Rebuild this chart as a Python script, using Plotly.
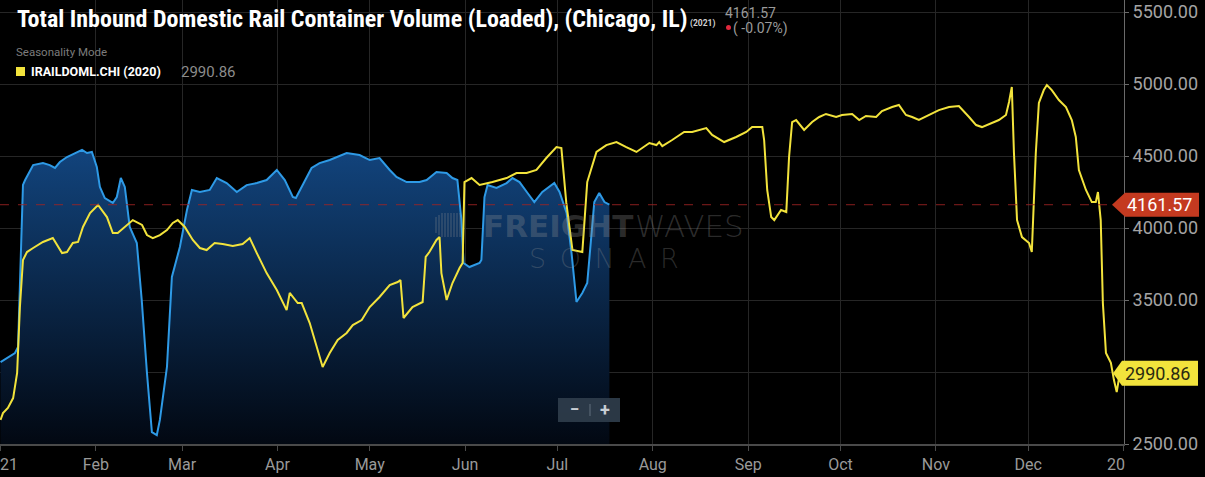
import plotly.graph_objects as go
import pandas as pd

# ---------------- data ----------------
# 2021 series (blue): day offset from Jan 1 and value
days_2021 = [0, 2.4, 4.7, 5.7, 6.7, 7.3, 8, 10.6, 13.8, 16, 17.7, 19.3, 21.6, 24.8, 26.5, 28.1, 29.7,
             31.3, 32.3, 33.9, 36.5, 37.8, 39.1, 40.4, 42.0, 44.3, 45.9, 47.6, 49.2, 50.8, 51.8, 54.1,
             55.7, 58.3, 60.6, 62.2, 64.8, 68, 70.3, 73.5, 76.8, 80, 83.3, 86.5, 89.8, 92.4, 95, 96,
             98.2, 101.1, 103.7, 107, 112.5, 116.7, 120, 123.2, 126.5, 128.7, 132, 136.2, 138.5,
             141.7, 145, 146.9, 148.5, 149.8, 150.5, 152.4, 155.7, 156.3, 157.3, 158.3, 161.2, 164.5,
             166.4, 168.7, 171.3, 173.5, 176.1, 178.4, 180, 181.7, 184, 185.6, 187.2, 189.1, 190.7,
             192, 193, 194.6, 196.3, 197.9]
vals_2021 = [3069, 3104, 3132, 3174, 3847, 4299, 4333, 4437, 4451, 4437, 4417, 4458, 4493, 4528, 4542,
             4521, 4528, 4424, 4285, 4208, 4174, 4215, 4347, 4285, 4007, 3896, 3500, 2993, 2583, 2562,
             2667, 3035, 3660, 3868, 4125, 4264, 4250, 4264, 4347, 4312, 4250, 4298, 4312, 4333, 4403,
             4333, 4215, 4208, 4299, 4417, 4451, 4472, 4521, 4507, 4472, 4486, 4403, 4354, 4319, 4319,
             4333, 4389, 4382, 4347, 4333, 4056, 3757, 3729, 3757, 3778, 4215, 4299, 4278, 4312, 4347,
             4319, 4243, 4180, 4250, 4285, 4312, 4250, 4104, 3826, 3486, 3549, 3618, 3937, 4180, 4243,
             4180, 4161.57]

# 2020 series (yellow, seasonality mode): day offset from Jan 1 and value
days_2020 = [0, 0.8, 2.4, 4.1, 5.4, 6.3, 7.3, 8.6, 10.6, 13.8, 17, 18.7, 20, 21.6, 23.5, 25.2, 26.8,
             29.1, 31.7, 34.6, 36.5, 38.1, 40.4, 43, 46, 47.6, 49.5, 51.8, 54.1, 56, 57.6, 59.9, 62.5,
             64.8, 67, 69.6, 72.2, 75.5, 78.7, 81, 83.3, 86.5, 89.8, 93, 94, 96.6, 97.9, 100.5, 102.8,
             104.7, 107, 109.6, 112.5, 114.5, 117.4, 120, 123.2, 126.5, 129.1, 130, 131, 133.9, 137.2,
             138.2, 139.4, 141.7, 142.7, 143.3, 145, 146.9, 149.2, 150.2, 150.8, 153.1, 155.7, 159.9,
             164.5, 167.7, 171, 174.2, 177.4, 180.7, 182.3, 183.9, 185.9, 189.1, 190.7, 193.7, 196.9,
             200.2, 203.4, 206.7, 210.9, 213.2, 214.1, 215.1, 218.3, 222.2, 224.8, 229.4, 231.3, 235.2,
             239.1, 242.4, 244.3, 247.6, 248.2, 249.2, 250.5, 251.5, 253.7, 255.4, 256.3, 257.3, 258.6,
             261.2, 263.8, 266.1, 268.3, 271.6, 273.5, 276.8, 279.1, 281.3, 284.6, 286.5, 289.8, 292,
             294.3, 296.3, 298.5, 301.8, 305, 308.3, 311.5, 314.8, 317.1, 319, 322.2, 324.5, 326.8,
             327.8, 328.7, 329.4, 330.4, 332, 334.3, 335.2, 336.5, 337.5, 339.1, 340.1, 341.7, 344,
             346.3, 348.2, 349.5, 350.5, 352.8, 354.7, 356, 356.7, 357.6, 358.3, 359.3, 360.9, 361.9,
             362.8, 363.8]
vals_2020 = [2667, 2715, 2750, 2819, 2993, 3451, 3778, 3833, 3861, 3903, 3930, 3868, 3826, 3833, 3896,
             3903, 4007, 4104, 4160, 4076, 3965, 3965, 4007, 4055, 4021, 3951, 3930, 3951, 3986, 4035,
             4055, 4007, 3917, 3861, 3847, 3896, 3889, 3875, 3889, 3930, 3826, 3687, 3569, 3430, 3549,
             3479, 3479, 3340, 3174, 3035, 3132, 3222, 3271, 3326, 3361, 3451, 3521, 3604, 3625, 3639,
             3375, 3451, 3486, 3799, 3833, 3917, 3937, 3687, 3500, 3618, 3722, 3757, 4319, 4347, 4299,
             4319, 4347, 4382, 4382, 4403, 4486, 4562, 4555, 4174, 3847, 3833, 4319, 4528, 4576, 4597,
             4562, 4528, 4590, 4576, 4597, 4569, 4611, 4667, 4667, 4694, 4646, 4597, 4632, 4667, 4701,
             4701, 4611, 4264, 4076, 4055, 4125, 4111, 4493, 4736, 4750, 4681, 4736, 4771, 4792, 4771,
             4785, 4792, 4750, 4778, 4771, 4812, 4840, 4854, 4785, 4771, 4750, 4785, 4819, 4840, 4847,
             4771, 4715, 4701, 4729, 4750, 4785, 4875, 4979, 4521, 4055, 3937, 3896, 3833, 4521, 4868,
             4958, 4993, 4958, 4889, 4840, 4750, 4632, 4403, 4264, 4180, 4180, 4250, 4055, 3479, 3132,
             3063, 2944, 2861, 2990.86]

month_ticks = ["2021-01-01", "2021-02-01", "2021-03-01", "2021-04-01", "2021-05-01", "2021-06-01",
               "2021-07-01", "2021-08-01", "2021-09-01", "2021-10-01", "2021-11-01", "2021-12-01",
               "2022-01-01"]
# the two year labels at the edges are only partly visible in the reference ("21" and "20")
month_labels = ["", "Feb", "Mar", "Apr", "May", "Jun", "Jul", "Aug", "Sep", "Oct", "Nov", "Dec", ""]
edge_labels = ["21", "20"]
y_ticks = [2500, 3000, 3500, 4000, 4500, 5000, 5500]
# the 3000 label sits under the yellow last-value tag in the reference
y_labels = ["2500.00", "", "3500.00", "4000.00", "4500.00", "5000.00", "5500.00"]

last_2021 = 4161.57
last_2020 = 2990.86
change_pct = "-0.07%"
title_text = "Total Inbound Domestic Rail Container Volume (Loaded), (Chicago, IL)"
series_name = "IRAILDOML.CHI (2020)"

# ---------------- figure ----------------
base = pd.Timestamp("2021-01-01")
x21 = base + pd.to_timedelta(days_2021, unit="D")
x20 = base + pd.to_timedelta(days_2020, unit="D")

W, H = 1205, 477
ML, MR, MT, MB = 0, 81, 0, 33
PW, PH = W - ML - MR, H - MT - MB


def PX(x):
    return (x - ML) / PW


def PY(y):
    return (PH + MT - y) / PH


BLUE = "#2e9ae6"
YELLOW = "#f2e33c"
RED = "#c43a20"
FONT = "Roboto"
WM = "rgba(150,150,150,0.30)"

fig = go.Figure()
fig.add_trace(go.Scatter(
    x=x21, y=vals_2021, mode="lines", line=dict(color=BLUE, width=2),
    fill="tozeroy",
    fillgradient=dict(type="vertical",
                      colorscale=[[0, "rgb(2,8,18)"], [1, "rgb(18,68,125)"]],
                      start=2500, stop=4550),
    hoverinfo="skip"))
fig.add_trace(go.Scatter(
    x=x20, y=vals_2020, mode="lines", line=dict(color=YELLOW, width=2), hoverinfo="skip"))

shapes = []
# last-value dashed line
shapes.append(dict(type="line", xref="paper", x0=0, x1=1, yref="y", y0=last_2021, y1=last_2021,
                   line=dict(color="rgba(160,35,35,0.85)", width=1, dash="dash"), layer="above"))
# red price label
shapes.append(dict(type="path", xref="paper", xsizemode="pixel", xanchor=1,
                   yref="y", ysizemode="pixel", yanchor=last_2021,
                   path="M -12,0 L 1,12 L 75,12 L 75,-12 L 1,-12 Z",
                   fillcolor=RED, line=dict(width=0), layer="above"))
# yellow price label
shapes.append(dict(type="path", xref="paper", xsizemode="pixel", xanchor=1,
                   yref="y", ysizemode="pixel", yanchor=last_2020,
                   path="M -11,0 L -2,12.5 L 74,12.5 L 74,-12.5 L -2,-12.5 Z",
                   fillcolor=YELLOW, line=dict(width=0), layer="above"))
# legend swatch
shapes.append(dict(type="rect", xref="paper", x0=PX(16), x1=PX(25), yref="paper", y0=PY(76), y1=PY(67),
                   fillcolor=YELLOW, line=dict(width=0), layer="above"))
# red dot
shapes.append(dict(type="circle", xref="paper", x0=PX(726), x1=PX(731), yref="paper", y0=PY(30), y1=PY(25),
                   fillcolor="#e0283c", line=dict(width=0), layer="above"))
# zoom button
shapes.append(dict(type="rect", xref="paper", x0=PX(558), x1=PX(620), yref="paper", y0=PY(422), y1=PY(398),
                   fillcolor="rgba(48,62,76,0.9)", line=dict(width=0), layer="above"))
shapes.append(dict(type="line", xref="paper", x0=PX(590), x1=PX(590), yref="paper", y0=PY(416), y1=PY(404),
                   line=dict(color="rgba(120,135,150,0.7)", width=1), layer="above"))
# watermark bars
for i, h in enumerate([8, 10, 12, 12, 12, 12, 12, 12, 12]):
    xb = 436 + i * 3
    shapes.append(dict(type="line", xref="paper", x0=PX(xb), x1=PX(xb), yref="paper",
                       y0=PY(225 + h), y1=PY(225 - h),
                       line=dict(color=WM, width=1.5), layer="above"))

annotations = []


def ann(x, y, text, size, color, xanchor="left", weight="normal", family=FONT, **kw):
    annotations.append(dict(xref="paper", yref="paper", x=PX(x), y=PY(y), text=text, showarrow=False,
                            xanchor=xanchor, yanchor="middle",
                            font=dict(family=family, size=size, color=color, weight=weight), **kw))


ann(15, 19, "<b>" + title_text + "</b>", 24, "#ffffff",
    family="Roboto Condensed, Liberation Sans Narrow, Arial Narrow, Roboto")
ann(688, 23, "<b>(2021)</b>", 8.5, "#d0d0d0")
ann(723, 13, f"{last_2021:.2f}", 14, "#9a9a9a")
ann(731, 28, "( " + change_pct + ")", 14, "#9a9a9a")
ann(14, 52, "Seasonality Mode", 11.5, "#7c7c7c")
ann(29, 71, "<b>" + series_name + "</b>", 12.5, "#ffffff")
ann(179, 72, f"{last_2020:.2f}", 15, "#8c8c8c")
# partially visible year labels at the x-axis edges
ann(-2, 464, edge_labels[0], 16, "#9a9a9a")
ann(1127, 464, edge_labels[1], 16, "#9a9a9a", xanchor="right")
# price label texts
annotations.append(dict(xref="paper", yref="y", x=1, y=last_2021, xshift=1, text=f"{last_2021:.2f}",
                        showarrow=False, xanchor="left", yanchor="middle",
                        font=dict(family=FONT, size=18, color="#ffffff")))
annotations.append(dict(xref="paper", yref="y", x=1, y=last_2020, xshift=-1, text=f"{last_2020:.2f}",
                        showarrow=False, xanchor="left", yanchor="middle",
                        font=dict(family=FONT, size=18, color="#2a2a10")))
# watermark
ann(635, 226, "<b>FREIGHT</b>", 31, WM, xanchor="right", family="DejaVu Sans")
ann(633, 226, "WAVES", 31, WM, family="DejaVu Sans", weight=300)
ann(604, 258, "S\u2002O\u2002N\u2002A\u2002R", 27, "rgba(150,150,150,0.28)", xanchor="center",
    family="DejaVu Sans", weight=200)
# zoom button glyphs
ann(574, 409, "<b>\u2212</b>", 17, "#c8ced4", xanchor="center")
ann(605, 409, "<b>+</b>", 18, "#c8ced4", xanchor="center")

fig.update_layout(
    width=W, height=H,
    margin=dict(l=ML, r=MR, t=MT, b=MB, pad=0, autoexpand=False),
    paper_bgcolor="#000000", plot_bgcolor="#000000",
    showlegend=False,
    font=dict(family=FONT, color="#a0a0a0"),
    shapes=shapes, annotations=annotations,
    xaxis=dict(type="date", range=["2020-12-31 20:00", "2022-01-01 04:00"],
               tickmode="array", tickvals=month_ticks, ticktext=month_labels,
               showgrid=True, gridcolor="#262626", gridwidth=1,
               showline=True, linecolor="#4a4a4a", linewidth=2,
               ticks="outside", ticklen=5, tickcolor="#4a4a4a",
               tickfont=dict(family=FONT, size=16, color="#9a9a9a"),
               ticklabeloverflow="allow", zeroline=False, fixedrange=True, automargin=False),
    yaxis=dict(side="right", range=[2500, 2500 + PH / 72 * 500],
               tickmode="array", tickvals=y_ticks, ticktext=y_labels,
               showgrid=True, gridcolor="#262626", gridwidth=1,
               showline=True, linecolor="#6a6a6a", linewidth=1,
               ticks="outside", ticklen=4, tickcolor="#6a6a6a",
               tickfont=dict(family=FONT, size=18, color="#a4a4a4"),
               ticklabeloverflow="allow", zeroline=False, fixedrange=True, automargin=False),
)

fig.write_html("out.html")
